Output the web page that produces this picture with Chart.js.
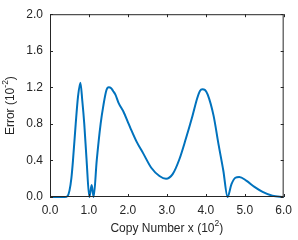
<!DOCTYPE html>
<html>
<head>
<meta charset="utf-8">
<script src="https://cdn.jsdelivr.net/npm/chart.js@4/dist/chart.umd.min.js"></script>
<style>
  html, body { margin: 0; padding: 0; background: #fff; }
  #wrap { width: 298px; height: 240px; }
</style>
</head>
<body>
<div id="wrap"><canvas id="errChart" width="298" height="240"></canvas></div>
<script>
// copy number (x 10^2) and error (x 10^-2)
const copyNumber = [0, 0.38, 0.45, 0.50, 0.55, 0.59, 0.66, 0.72, 0.78, 0.83, 0.88, 0.94, 1.01, 1.07, 1.12,
  1.20, 1.30, 1.37, 1.45, 1.51, 1.57, 1.62, 1.68, 1.76, 1.89, 2.00, 2.06, 2.23, 2.39, 2.60, 2.81, 2.98,
  3.15, 3.32, 3.49, 3.66, 3.78, 3.85, 3.91, 3.98, 4.05, 4.20, 4.33, 4.45, 4.56, 4.66, 4.76, 4.86, 5.04,
  5.25, 5.46, 5.71, 6.00];
const errorValues = [0, 0, 0.01, 0.07, 0.21, 0.40, 0.80, 1.10, 1.25, 1.05, 0.80, 0.40, 0, 0.13, 0,
  0.40, 0.80, 1.00, 1.17, 1.20, 1.19, 1.16, 1.12, 1.03, 0.93, 0.82, 0.76, 0.60, 0.48, 0.32, 0.23, 0.20,
  0.25, 0.41, 0.64, 0.89, 1.08, 1.16, 1.18, 1.17, 1.12, 0.89, 0.57, 0.29, 0, 0.14, 0.21, 0.22, 0.18,
  0.11, 0.056, 0.014, 0];

const xTicks = [0, 1, 2, 3, 4, 5, 6];
const yTicks = [0, 0.4, 0.8, 1.2, 1.6, 2.0];

const axisColor = '#262626';
const fontFamily = '"Liberation Sans", Arial, Helvetica, sans-serif';

// text with a raised exponent, e.g. "Error (10" + "-2" + ")"
function drawSupText(ctx, parts, x, y) {
    const base = '12px ' + fontFamily;
    const small = '8.5px ' + fontFamily;
    let total = 0;
    parts.forEach(p => { ctx.font = p.sup ? small : base; total += ctx.measureText(p.t).width; });
    let cx = x - total / 2;
    parts.forEach(p => {
        ctx.font = p.sup ? small : base;
        ctx.fillText(p.t, cx, p.sup ? y - 5 : y);
        cx += ctx.measureText(p.t).width;
    });
}

const boxPlugin = {
    id: 'boxAxes',
    afterDraw(chart) {
        const { ctx, chartArea: a, scales } = chart;
        ctx.save();
        ctx.strokeStyle = axisColor;
        ctx.lineWidth = 1;
        ctx.strokeRect(a.left + 0.5, a.top + 0.5, a.right - a.left - 1, a.bottom - a.top - 1);
        const len = 3;
        ctx.beginPath();
        xTicks.forEach(v => {
            const px = Math.round(scales.x.getPixelForValue(v)) + 0.5;
            ctx.moveTo(px, a.bottom); ctx.lineTo(px, a.bottom - len);
            ctx.moveTo(px, a.top); ctx.lineTo(px, a.top + len);
        });
        yTicks.forEach(v => {
            const py = Math.round(scales.y.getPixelForValue(v)) + 0.5;
            ctx.moveTo(a.left, py); ctx.lineTo(a.left + len, py);
            ctx.moveTo(a.right, py); ctx.lineTo(a.right - len, py);
        });
        ctx.stroke();

        // axis titles
        ctx.fillStyle = axisColor;
        ctx.textBaseline = 'middle';
        ctx.textAlign = 'left';
        drawSupText(ctx, [{ t: 'Copy Number x (10' }, { t: '2', sup: true }, { t: ')' }],
            (a.left + a.right) / 2, 229);
        ctx.translate(11, (a.top + a.bottom) / 2);
        ctx.rotate(-Math.PI / 2);
        drawSupText(ctx, [{ t: 'Error (10' }, { t: '-2', sup: true }, { t: ')' }], 0, 0);
        ctx.restore();
    }
};

new Chart(document.getElementById('errChart'), {
    type: 'scatter',
    data: {
        datasets: [{
            data: copyNumber.map((x, i) => ({ x: x, y: errorValues[i] })),
            showLine: true,
            borderColor: '#0072BD',
            borderWidth: 2,
            pointRadius: 0,
            cubicInterpolationMode: 'monotone',
            clip: false
        }]
    },
    options: {
        responsive: false,
        animation: false,
        layout: { padding: { top: 8, right: 10, left: 0, bottom: 0 } },
        plugins: { legend: { display: false }, tooltip: { enabled: false } },
        scales: {
            x: {
                type: 'linear', min: 0, max: 6,
                afterBuildTicks: s => { s.ticks = xTicks.map(v => ({ value: v })); },
                afterFit: s => { s.height = 43; },
                grid: { display: false, drawTicks: false },
                border: { display: false },
                ticks: {
                    color: axisColor, padding: 6,
                    font: { family: fontFamily, size: 12 },
                    callback: v => v.toFixed(1)
                }
            },
            y: {
                min: 0, max: 2,
                afterBuildTicks: s => { s.ticks = yTicks.map(v => ({ value: v })); },
                afterFit: s => { s.width = 50; },
                grid: { display: false, drawTicks: false },
                border: { display: false },
                ticks: {
                    color: axisColor, padding: 7,
                    font: { family: fontFamily, size: 12 },
                    callback: v => v.toFixed(1)
                }
            }
        }
    },
    plugins: [boxPlugin]
});
</script>
</body>
</html>
